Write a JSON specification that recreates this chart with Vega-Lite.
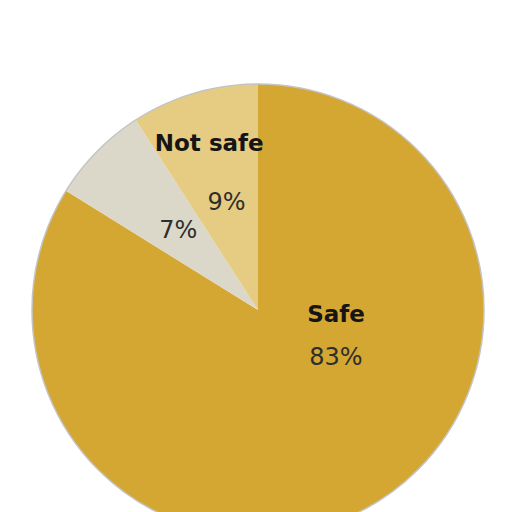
{
  "$schema": "https://vega.github.io/schema/vega-lite/v6.json",
  "width": 516,
  "height": 620,
  "autosize": "none",
  "padding": 0,
  "background": "white",
  "data": {
    "values": [
      {"cat": "Safe", "value": 83, "label": "83%", "rank": 1},
      {"cat": "Don't know", "value": 7, "label": "7%", "rank": 2},
      {"cat": "Not safe", "value": 9, "label": "9%", "rank": 3}
    ]
  },
  "encoding": {
    "theta": {"field": "value", "type": "quantitative", "stack": true},
    "order": {"field": "rank", "type": "quantitative"}
  },
  "layer": [
    {
      "mark": {"type": "arc", "outerRadius": 226},
      "encoding": {
        "color": {
          "field": "cat",
          "type": "nominal",
          "scale": {
            "domain": ["Safe", "Don't know", "Not safe"],
            "range": ["#D4A733", "#DCD8C9", "#E6CB82"]
          },
          "legend": null
        }
      }
    },
    {
      "mark": {"type": "arc", "outerRadius": 226, "fill": null, "stroke": "#c4c4c4", "strokeWidth": 1.5},
      "encoding": {
        "theta": {"aggregate": "sum", "field": "value", "type": "quantitative"},
        "order": null
      }
    },
    {
      "mark": {"type": "text", "radius": 112, "font": "DejaVu Sans", "fontSize": 24, "color": "#2e2e2e", "baseline": "middle", "align": "center"},
      "encoding": {
        "text": {"condition": {"test": "datum.cat !== 'Safe'", "field": "label"}, "value": ""}
      }
    },
    {
      "mark": {"type": "text", "radius": 173, "font": "DejaVu Sans", "fontWeight": "bold", "fontSize": 23, "color": "#151515", "baseline": "middle", "align": "center"},
      "encoding": {
        "text": {"condition": {"test": "datum.cat === 'Not safe'", "field": "cat"}, "value": ""}
      }
    },
    {
      "mark": {"type": "text", "radius": 0, "dx": 78, "dy": 5, "font": "DejaVu Sans", "fontWeight": "bold", "fontSize": 23, "color": "#151515", "baseline": "middle", "align": "center"},
      "encoding": {
        "text": {"condition": {"test": "datum.cat === 'Safe'", "field": "cat"}, "value": ""}
      }
    },
    {
      "mark": {"type": "text", "radius": 0, "dx": 78, "dy": 48, "font": "DejaVu Sans", "fontSize": 24, "color": "#2e2e2e", "baseline": "middle", "align": "center"},
      "encoding": {
        "text": {"condition": {"test": "datum.cat === 'Safe'", "field": "label"}, "value": ""}
      }
    }
  ],
  "config": {"view": {"stroke": null}}
}
